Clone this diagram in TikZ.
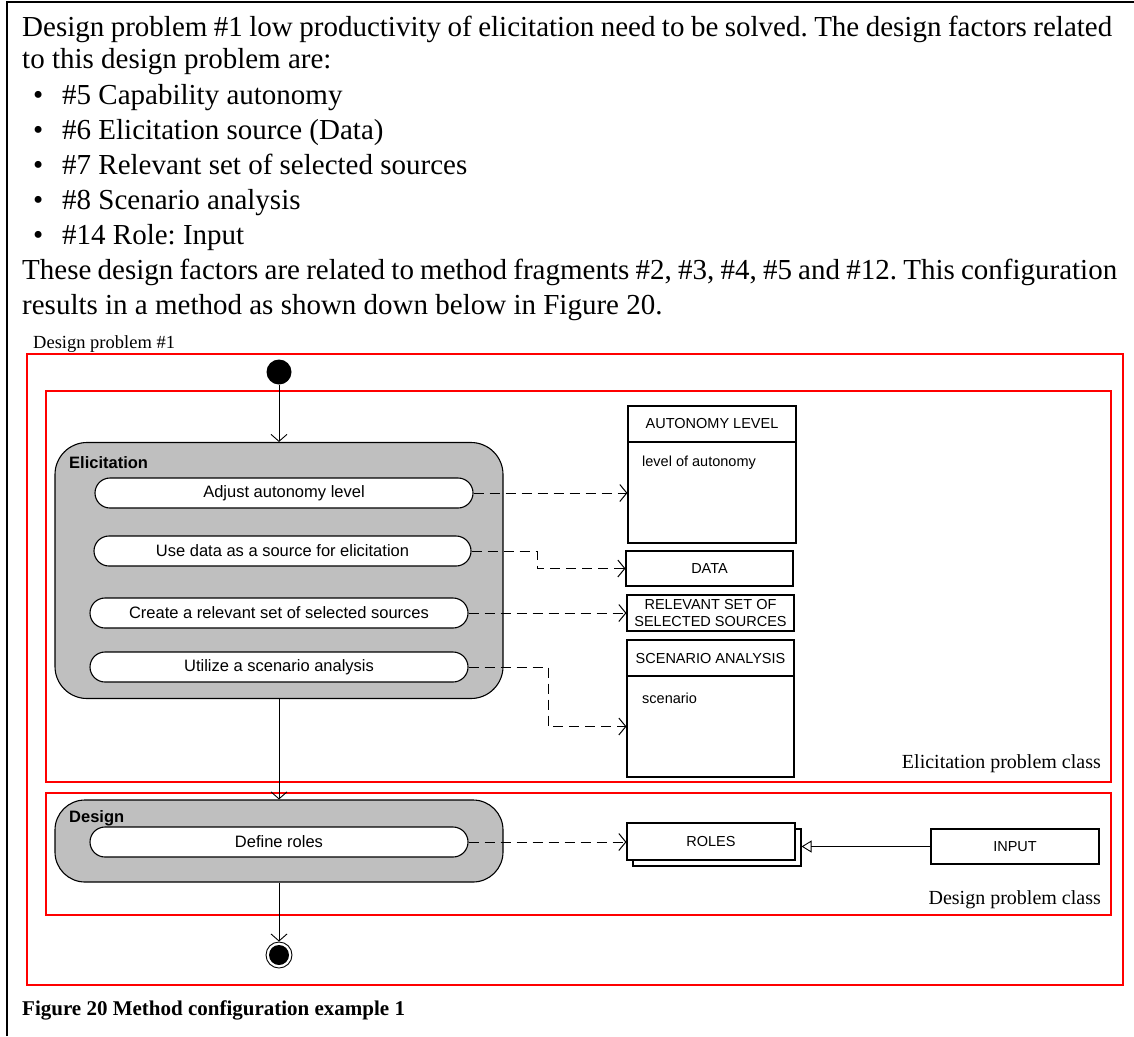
\documentclass[tikz,border=0pt]{standalone}
\usepackage{fontspec}
\setmainfont{Liberation Serif}
\newfontfamily\arialfont{Liberation Sans}
\usetikzlibrary{arrows.meta,calc}
\frenchspacing

\tikzset{
  bodytext/.style={inner sep=0pt, anchor=base west, font=\fontsize{29}{34}\selectfont},
  classlbl/.style={inner sep=0pt, anchor=base east, font=\fontsize{20}{24}\selectfont},
  frame/.style={draw=red, line width=1.6pt},
  actgroup/.style={draw, fill=black!25, line width=1.1pt, inner sep=0pt},
  grouptitle/.style={inner sep=0pt, anchor=west, font=\arialfont\bfseries\fontsize{16.5}{19}\selectfont},
  pill/.style={draw, fill=white, rounded corners=15pt, line width=1.1pt, minimum width=378pt,
    minimum height=30pt, inner sep=0pt, font=\arialfont\fontsize{16.5}{19}\selectfont},
  obj/.style={draw, fill=white, line width=1.1pt, inner sep=0pt, align=center,
    font=\arialfont\fontsize{14.5}{17}\selectfont},
  objtext/.style={inner sep=0pt, anchor=west, font=\arialfont\fontsize{14.5}{17}\selectfont},
  flow/.style={line width=0.9pt, -{Straight Barb[length=7pt,width=16pt]}},
  dep/.style={line width=1pt, dash pattern=on 10pt off 6pt, -{Straight Barb[length=7pt,width=17pt]}},
  gen/.style={line width=0.9pt, -{Triangle[open,length=10pt,width=12pt]}},
}

\begin{document}
\begin{tikzpicture}[x=1pt,y=-1pt]
\useasboundingbox (0,0) rectangle (1134,1036);
\fill[white] (0,0) rectangle (1134,1036);

% cell border
\draw[line width=2pt] (7,1036) -- (7,2) -- (1134,2);

% paragraph
\node[bodytext] (t1) at (22,36) {\makebox[1090pt][s]{Design problem \#1 low productivity of elicitation need to be solved. The design factors related}};
\node[bodytext] (t2) at (22,68) {to this design problem are:};
\foreach \y/\txt [count=\i] in {104/{\#5 Capability autonomy},
                               139/{\#6 Elicitation source (Data)},
                               174/{\#7 Relevant set of selected sources},
                               209/{\#8 Scenario analysis},
                               244/{\#14 Role: Input}} {
  \node[bodytext] (b\i) at (33,\y) {•};
  \node[bodytext] (bt\i) at (62,\y) {\txt};
}
\node[bodytext] (t3) at (22,279) {\makebox[1095pt][s]{These design factors are related to method fragments \#2, \#3, \#4, \#5 and \#12. This configuration}};
\node[bodytext] (t4) at (22,314) {results in a method as shown down below in Figure 20.};

% problem frames
\node[inner sep=0pt, anchor=base west, font=\fontsize{18.5}{22}\selectfont] (dplabel) at (33,348) {Design problem \#1};
\draw[frame] (27,354) rectangle (1123,985);
\draw[frame] (46,391) rectangle (1111,782);
\draw[frame] (46,793) rectangle (1111,915);
\node[classlbl] (elicclass) at (1101,768) {Elicitation problem class};
\node[classlbl] (desclass) at (1101,904) {Design problem class};

% initial node
\node[circle, fill=black, minimum size=25pt, inner sep=0pt] (start) at (279,372) {};

% Elicitation activity
\node[actgroup, rounded corners=32pt, minimum width=448pt, minimum height=256pt] (elic) at (279,570.5) {};
\node[grouptitle] (elictitle) at (69,463) {Elicitation};
\node[pill] (adj) at (284,493) {Adjust autonomy level};
\node[pill, minimum width=377pt] (use) at (282.5,551) {Use data as a source for elicitation};
\node[pill] (create) at (279,613) {Create a relevant set of selected sources};
\node[pill] (util) at (279,667) {Utilize a scenario analysis};

% Design activity
\node[actgroup, rounded corners=30pt, minimum width=448pt, minimum height=82pt] (des) at (279,841) {};
\node[grouptitle] (destitle) at (69,818) {Design};
\node[pill] (defroles) at (279,842) {Define roles};

% final node
\node[circle, draw, line width=0.9pt, minimum size=26pt, inner sep=0pt] (end) at (279,955) {};
\fill (end.center) circle (10pt);

% objects
\node[obj, minimum width=168pt, minimum height=36pt] (authead) at (712,424) {AUTONOMY LEVEL};
\node[obj, minimum width=168pt, minimum height=101pt] (autbody) at (712,492.5) {};
\node[objtext] (auttext) at (642,463) {level of autonomy};
\node[obj, minimum width=167pt, minimum height=35pt] (data) at (709.5,568.5) {DATA};
\node[obj, minimum width=167pt, minimum height=36pt, font=\arialfont\fontsize{14.5}{16.5}\selectfont] (relset) at (710.5,613) {RELEVANT SET OF\\SELECTED SOURCES};
\node[obj, minimum width=167pt, minimum height=36pt] (scnhead) at (710.5,658) {SCENARIO ANALYSIS};
\node[obj, minimum width=167pt, minimum height=101pt] (scnbody) at (710.5,726.5) {};
\node[objtext] (scntext) at (642,698) {scenario};

\node[obj, minimum width=168pt, minimum height=37pt] (rolesback) at (717,847.5) {};
\node[obj, minimum width=168pt, minimum height=37pt] (roles) at (711,841.5) {ROLES};
\node[obj, minimum width=168pt, minimum height=35pt] (input) at (1015,846.5) {INPUT};

% control flow
\draw[flow] (start) -- (elic.north);
\draw[flow] (elic.south) -- (des.north);
\draw[flow] (des.south) -- (end.north);

% object flows
\draw[dep] (adj.east) -- (adj.east -| autbody.west);
\coordinate (usebend) at (537,551);
\draw[dep] (use.east) -- (usebend) |- (data.west);
\draw[dep] (create.east) -- (create.east -| relset.west);
\coordinate (utilbend) at (548,667);
\draw[dep] (util.east) -- (utilbend) |- (scnbody.west);
\draw[dep] (defroles.east) -- (defroles.east -| roles.west);

% generalization
\draw[gen] (input.west) -- (input.west -| rolesback.east);

% caption
\node[inner sep=0pt, anchor=base west, font=\bfseries\fontsize{21}{25}\selectfont] (caption) at (22,1015) {Figure 20 Method configuration example 1};
\end{tikzpicture}
\end{document}
